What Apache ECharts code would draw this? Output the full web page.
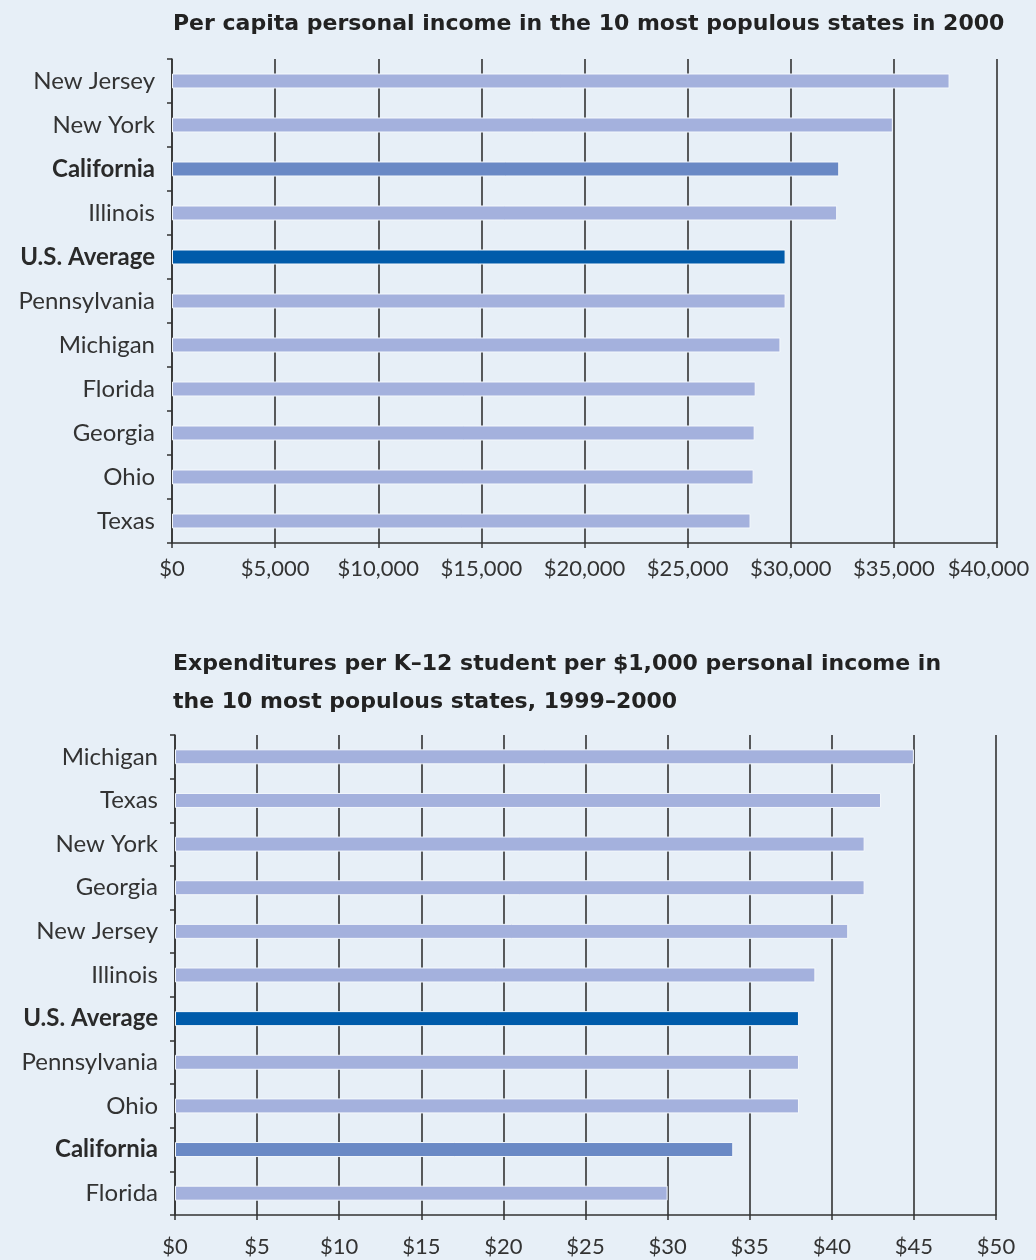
<!DOCTYPE html>
<html>
<head>
<meta charset="utf-8">
<script src="https://cdn.jsdelivr.net/npm/echarts@6/dist/echarts.min.js"></script>
<style>
  html, body { margin: 0; padding: 0; background: #e7eff7; }
  #chart { width: 1036px; height: 1260px; }
</style>
</head>
<body>
<div id="chart"></div>
<script>
// Per capita personal income, 2000 (dollars)
const incomeStates = ['New Jersey', 'New York', 'California', 'Illinois', 'U.S. Average',
  'Pennsylvania', 'Michigan', 'Florida', 'Georgia', 'Ohio', 'Texas'];
const incomeValues = [37700, 34950, 32350, 32250, 29750, 29750, 29500, 28300, 28250, 28200, 28050];

// K-12 expenditures per student per $1,000 personal income, 1999-2000
const spendStates = ['Michigan', 'Texas', 'New York', 'Georgia', 'New Jersey', 'Illinois',
  'U.S. Average', 'Pennsylvania', 'Ohio', 'California', 'Florida'];
const spendValues = [45, 43, 42, 42, 41, 39, 38, 38, 38, 34, 30];

const incomeTicks = { min: 0, max: 40000, step: 5000 };
const spendTicks = { min: 0, max: 50, step: 5 };

const FONT = 'Lato, "Open Sans", sans-serif';
const TITLE_FONT = '"DejaVu Sans", Verdana, sans-serif';
const LIGHT = '#a4b1dd', CALIF = '#6a89c5', AVG = '#005baa', INK = '#333333';

function barColor(name) {
  if (name === 'U.S. Average') return AVG;
  if (name === 'California') return CALIF;
  return LIGHT;
}
function barData(names, values) {
  return values.map((v, i) => ({ value: v, itemStyle: { color: barColor(names[i]) } }));
}

function catAxis(gridIndex, names) {
  return {
    type: 'category', gridIndex, data: names, inverse: true,
    axisLine: { show: true, lineStyle: { color: INK, width: 1.5 } },
    axisTick: { show: true, length: 5, lineStyle: { color: INK, width: 1.5 } },
    axisLabel: {
      margin: 17, fontFamily: FONT, fontSize: 24, color: INK,
      formatter: n => (n === 'U.S. Average' || n === 'California') ? '{b|' + n + '}' : n,
      rich: { b: { fontFamily: FONT, fontSize: 24, fontWeight: 'bold', color: '#2a2a2a' } }
    }
  };
}
// the last tick label is nudged left so it stays on the page
function valAxis(gridIndex, t, fmt, margin) {
  return {
    type: 'value', gridIndex, min: t.min, max: t.max, interval: t.step,
    axisLine: { show: true, lineStyle: { color: INK, width: 1.5 } },
    axisTick: { show: true, length: 5, lineStyle: { color: INK, width: 1.5 } },
    splitLine: { show: true, lineStyle: { color: INK, width: 1.6 } },
    axisLabel: {
      margin, fontFamily: FONT, fontSize: 22, color: INK,
      formatter: v => v === t.max && t.max >= 10000 ? '{end|' + fmt(v) + '}' : fmt(v),
      rich: { end: { fontFamily: FONT, fontSize: 22, color: INK, padding: [0, 17, 0, 0] } }
    }
  };
}
function barSeries(idx, names, values) {
  return {
    type: 'bar', xAxisIndex: idx, yAxisIndex: idx,
    data: barData(names, values), barWidth: 15,
    itemStyle: { borderColor: '#f4f8fc', borderWidth: 1 },
    silent: true, animation: false
  };
}

const chart = echarts.init(document.getElementById('chart'), null, { renderer: 'canvas' });
chart.setOption({
  backgroundColor: '#e7eff7',
  animation: false,
  title: [
    {
      text: 'Per capita personal income in the 10 most populous states in 2000',
      left: 168, top: 8,
      textStyle: { fontFamily: TITLE_FONT, fontSize: 22, fontWeight: 'bold', color: '#222' }
    },
    {
      text: 'Expenditures per K\u201312 student per $1,000 personal income in\nthe 10 most populous states, 1999\u20132000',
      left: 168, top: 640,
      textStyle: { fontFamily: TITLE_FONT, fontSize: 22, fontWeight: 'bold', color: '#222', lineHeight: 38 }
    }
  ],
  grid: [
    { left: 172, top: 59, width: 825, height: 484, containLabel: false, outerBoundsMode: 'none' },
    { left: 175, top: 735, width: 821, height: 480, containLabel: false, outerBoundsMode: 'none' }
  ],
  xAxis: [
    valAxis(0, incomeTicks, v => '$' + v.toLocaleString('en-US'), 15),
    valAxis(1, spendTicks, v => '$' + v, 21)
  ],
  yAxis: [catAxis(0, incomeStates), catAxis(1, spendStates)],
  series: [barSeries(0, incomeStates, incomeValues), barSeries(1, spendStates, spendValues)]
});
</script>
</body>
</html>
